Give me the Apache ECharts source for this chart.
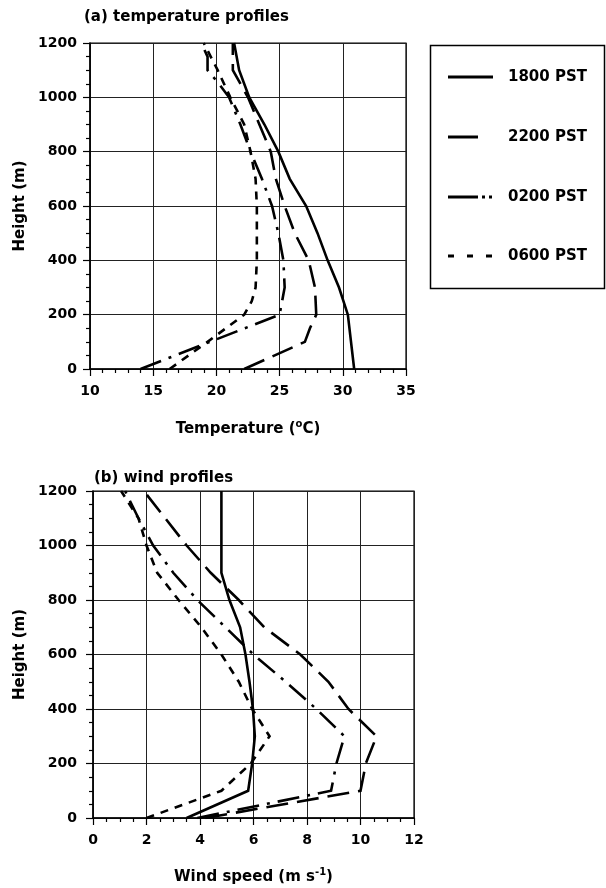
<!DOCTYPE html>
<html><head><meta charset="utf-8">
<script src="https://cdn.jsdelivr.net/npm/echarts@6/dist/echarts.min.js"></script>
<style>html,body{margin:0;padding:0;background:#fff}#c{width:606px;height:888px}</style>
</head><body><div id="c"></div>
<script>
// ---- data ----
const seriesNames = ['1800 PST', '2200 PST', '0200 PST', '0600 PST'];

// (a) temperature profiles: heights (m) and temperatures (°C)
const tH1800 = [0, 200, 300, 400, 500, 600, 700, 800, 900, 1000, 1100, 1200];
const t1800  = [30.9, 30.4, 29.7, 28.8, 28.0, 27.1, 25.8, 24.9, 23.8, 22.6, 21.8, 21.4];
const tH2200 = [0, 100, 150, 200, 300, 400, 500, 600, 700, 800, 900, 1000, 1100, 1200];
const t2200  = [22.2, 27.0, 27.4, 27.9, 27.8, 27.3, 26.2, 25.4, 24.7, 24.3, 23.4, 22.5, 21.3, 21.3];
const tH0200 = [0, 100, 200, 300, 400, 500, 600, 700, 800, 900, 1000, 1050, 1100, 1150, 1200];
const t0200  = [14.0, 19.5, 25.0, 25.4, 25.3, 24.9, 24.4, 23.6, 22.7, 21.9, 21.0, 20.2, 19.3, 19.3, 18.8];
const tH0600 = [0, 100, 200, 250, 300, 400, 500, 600, 700, 800, 900, 1000, 1100, 1200];
const t0600  = [16.3, 19.3, 22.2, 22.8, 23.1, 23.2, 23.2, 23.2, 23.1, 22.7, 22.2, 21.1, 20.1, 19.0];

// (b) wind profiles: heights (m) and wind speed (m/s)
const wH    = [0, 100, 200, 300, 400, 500, 600, 700, 800, 900, 1000, 1100, 1200];
const w1800 = [3.5, 5.8, 5.95, 6.05, 5.98, 5.85, 5.7, 5.5, 5.1, 4.8, 4.8, 4.8, 4.8];
const w2200 = [4.2, 10.0, 10.2, 10.6, 9.55, 8.8, 7.75, 6.4, 5.45, 4.4, 3.5, 2.7, 1.9];
const w0200 = [3.9, 8.9, 9.1, 9.4, 8.35, 7.2, 6.0, 4.95, 3.9, 3.0, 2.25, 1.7, 1.2];
const w0600 = [2.0, 4.8, 5.9, 6.6, 5.95, 5.45, 4.8, 4.05, 3.2, 2.4, 2.0, 1.7, 1.05];

// axis ticks
const tempTicks = [10, 15, 20, 25, 30, 35];
const windTicks = [0, 2, 4, 6, 8, 10, 12];
const heightTicks = [0, 200, 400, 600, 800, 1000, 1200];

// ---- styles ----
const FONT = 'DejaVu Sans';
const dashes = ['solid', [22, 9], [22, 8, 3, 8], [8, 7]];
const legendDash = [null, [30, 15], [30, 4, 3, 4, 3, 10], [6, 13]];

const chart = echarts.init(document.getElementById('c'), null, {renderer: 'canvas'});

function pairs(xs, hs) { return xs.map((x, i) => [x, hs[i]]); }
const plainLabel = v => String(v);

function xAxisCfg(gridIndex, ticks, name, gap) {
  return {
    type: 'value', gridIndex: gridIndex,
    min: ticks[0], max: ticks[ticks.length - 1], interval: ticks[1] - ticks[0],
    name: name, nameLocation: 'middle', nameGap: gap,
    nameTextStyle: {fontFamily: FONT, fontWeight: 'bold', fontSize: 15, color: '#000', lineHeight: 20,
      rich: {sup: {fontFamily: FONT, fontWeight: 'bold', fontSize: 10, color: '#000', verticalAlign: 'top', lineHeight: 12}}},
    axisLine: {show: true, lineStyle: {color: '#000', width: 1.5}},
    axisTick: {show: true, length: 7, lineStyle: {color: '#000', width: 1.2}},
    minorTick: {show: true, splitNumber: gridIndex === 0 ? 5 : 4, length: 4, lineStyle: {color: '#000', width: 1.2}},
    axisLabel: {margin: 15, fontFamily: FONT, fontWeight: 'bold', fontSize: 14, color: '#000', formatter: plainLabel},
    splitLine: {show: true, lineStyle: {color: '#222', width: 1}}
  };
}
function yAxisCfg(gridIndex, gap, margin) {
  return {
    type: 'value', gridIndex: gridIndex,
    min: heightTicks[0], max: heightTicks[heightTicks.length - 1], interval: heightTicks[1] - heightTicks[0],
    name: 'Height (m)', nameLocation: 'middle', nameGap: gap, nameRotate: 90,
    nameTextStyle: {fontFamily: FONT, fontWeight: 'bold', fontSize: 15, color: '#000'},
    axisLine: {show: true, lineStyle: {color: '#000', width: 1.5}},
    axisTick: {show: true, length: 7, lineStyle: {color: '#000', width: 1.2}},
    minorTick: {show: true, splitNumber: 4, length: 4, lineStyle: {color: '#000', width: 1.2}},
    axisLabel: {margin: margin, fontFamily: FONT, fontWeight: 'bold', fontSize: 14, color: '#000', formatter: plainLabel},
    splitLine: {show: true, lineStyle: {color: '#222', width: 1}}
  };
}

function lineSeries(name, idx, gi, data) {
  return {
    name: name, type: 'line', xAxisIndex: gi, yAxisIndex: gi, data: data,
    showSymbol: false, symbol: 'none', smooth: false, silent: true, animation: false,
    clip: true,
    lineStyle: {color: '#000', width: 2.6, type: dashes[idx], cap: 'butt', join: 'miter'}
  };
}

const tempData = [pairs(t1800, tH1800), pairs(t2200, tH2200), pairs(t0200, tH0200), pairs(t0600, tH0600)];
const windData = [pairs(w1800, wH), pairs(w2200, wH), pairs(w0200, wH), pairs(w0600, wH)];

const series = [];
seriesNames.forEach((n, i) => series.push(lineSeries(n, i, 0, tempData[i])));
seriesNames.forEach((n, i) => series.push(lineSeries(n, i, 1, windData[i])));

// legend drawn as graphic box
const legendRows = [77, 137, 197, 256];
const graphic = [{
  type: 'rect', shape: {x: 430.5, y: 45.5, width: 174, height: 243},
  style: {fill: '#fff', stroke: '#000', lineWidth: 1.5}, z: 10
}];
seriesNames.forEach((n, i) => {
  graphic.push({
    type: 'line', shape: {x1: 448, y1: legendRows[i], x2: 493, y2: legendRows[i]},
    style: {stroke: '#000', lineWidth: 3, lineDash: legendDash[i] || null, lineCap: 'butt'}, z: 11
  });
  graphic.push({
    type: 'text', x: 508, y: legendRows[i],
    style: {text: n, fontFamily: FONT, fontWeight: 'bold', fontSize: 15, fill: '#000', verticalAlign: 'middle'}, z: 11
  });
});

chart.setOption({
  animation: false,
  backgroundColor: '#fff',
  title: [
    {text: '(a) temperature profiles', left: 79, top: 5,
     textStyle: {fontFamily: FONT, fontWeight: 'bold', fontSize: 15, color: '#000'}},
    {text: '(b) wind profiles', left: 89, top: 466,
     textStyle: {fontFamily: FONT, fontWeight: 'bold', fontSize: 15, color: '#000'}}
  ],
  grid: [
    {left: 90, top: 43, width: 316, height: 326, show: true, borderColor: '#000', borderWidth: 1.2, containLabel: false},
    {left: 93, top: 491, width: 321, height: 327, show: true, borderColor: '#000', borderWidth: 1.2, containLabel: false}
  ],
  xAxis: [
    xAxisCfg(0, tempTicks, 'Temperature ({sup|o}C)', 50),
    xAxisCfg(1, windTicks, 'Wind speed (m s{sup|-1})', 49)
  ],
  yAxis: [yAxisCfg(0, 51, 13), yAxisCfg(1, 53, 16)],
  series: series,
  graphic: graphic
});
</script></body></html>
